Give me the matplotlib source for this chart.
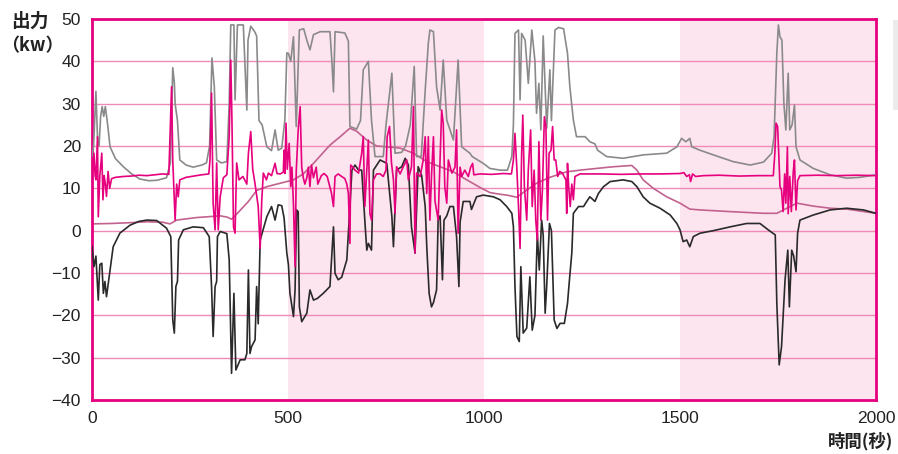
import matplotlib.pyplot as plt
import matplotlib.patches as mpatches

# ---- data (time in s, output in kW) ----
gray_t = [0, 4, 10, 14, 18, 22, 26, 30, 34, 40, 46, 60, 80, 100, 122, 145, 166, 190, 200, 206,
          210, 212, 218, 224, 240, 258, 280, 292, 300, 306, 312, 318, 330, 344, 350, 354, 362, 365,
          371, 386, 395, 398, 405, 415, 420, 426, 434, 446, 458, 467, 475, 484, 492, 497, 501, 507,
          514, 521, 529, 540, 548, 556, 565, 582, 607, 612, 616, 620, 645, 654, 658, 675, 685, 692,
          705, 713, 722, 743, 750, 765, 773, 790, 800, 812, 822, 828, 840, 850, 858, 862, 871, 879,
          888, 896, 905, 922, 934, 943, 964, 970, 998, 1015, 1041, 1060, 1071, 1075, 1079, 1088,
          1092, 1096, 1105, 1113, 1122, 1130, 1134, 1140, 1145, 1151, 1160, 1168, 1172, 1181, 1190,
          1203, 1213, 1219, 1228, 1236, 1258, 1270, 1283, 1290, 1313, 1355, 1406, 1466, 1492, 1504,
          1515, 1525, 1530, 1551, 1585, 1636, 1679, 1713, 1734, 1740, 1747, 1751, 1755, 1760, 1765,
          1770, 1776, 1780, 1786, 1792, 1796, 1806, 1840, 1883, 1925, 1959, 2000]
gray_kw = [17.5, 20, 32.9, 22, 20, 27, 29.3, 27, 29.3, 25, 19.8, 17, 15.1, 13.5, 12.2, 11.8, 11.9,
           12.5, 16, 38.5, 35, 30, 26, 16.7, 15.5, 15, 15.5, 16, 20, 40.8, 34, 16.7, 16, 16.3, 30,
           48.6, 48.6, 30.9, 48.6, 48.6, 28.5, 45, 48.3, 47, 46, 26, 25, 19.8, 18.9, 23.8, 19, 19.5,
           26.1, 42, 41.9, 40, 45.8, 24.6, 47.4, 47.7, 45, 42.7, 46.3, 47, 47, 40, 32.8, 47, 46.7,
           44.8, 24.6, 24, 26, 38, 40, 26.1, 17.5, 17.5, 25, 37.2, 18.3, 18.5, 20, 25, 38.8, 17.5,
           17.5, 33.2, 44.3, 47.4, 47, 34, 28.5, 40.3, 26.1, 21.4, 40.3, 19.8, 18.3, 17.5, 15.9,
           14.7, 14.3, 14.3, 17.5, 25, 46.6, 47.4, 30.9, 46.6, 45, 34.8, 47.4, 40, 27.7, 34.8, 23.8,
           46, 24.2, 38, 26, 47.4, 48, 47.7, 41.9, 34, 26.1, 22.2, 22.2, 21, 20.5, 19, 17.5, 17.1,
           17.9, 18.3, 19.8, 21.8, 21, 21.8, 19.8, 19, 17.9, 16.3, 15.5, 16.2, 18.3, 22.2, 41.9,
           48.6, 45.8, 45, 30.1, 23.8, 37.2, 23.8, 25, 29.7, 19.8, 16.7, 14.7, 13.2, 12.4, 12.6, 13.2]

black_t = [0, 5, 10, 16, 20, 25, 29, 33, 37, 46, 54, 71, 97, 120, 140, 165, 190, 201, 206, 210,
           214, 218, 221, 233, 258, 284, 299, 305, 309, 314, 318, 320, 327, 344, 350, 356, 362, 367,
           378, 390, 395, 399, 403, 407, 416, 420, 424, 429, 446, 458, 467, 475, 484, 490, 497, 501,
           505, 514, 518, 522, 526, 529, 535, 548, 556, 565, 575, 590, 607, 616, 620, 628, 637, 650,
           658, 663, 671, 680, 688, 697, 701, 705, 713, 718, 735, 752, 765, 769, 777, 790, 799, 807,
           815, 824, 828, 832, 841, 850, 854, 860, 866, 871, 879, 883, 888, 894, 898, 905, 913, 922,
           930, 936, 939, 947, 964, 968, 981, 998, 1024, 1041, 1058, 1071, 1075, 1079, 1084, 1090,
           1094, 1100, 1109, 1117, 1123, 1130, 1136, 1141, 1147, 1151, 1156, 1160, 1167, 1172, 1179,
           1186, 1194, 1205, 1213, 1218, 1224, 1228, 1241, 1254, 1262, 1270, 1283, 1292, 1305, 1322,
           1355, 1377, 1390, 1406, 1423, 1449, 1475, 1492, 1500, 1508, 1517, 1525, 1534, 1551, 1585,
           1628, 1670, 1704, 1725, 1743, 1747, 1753, 1759, 1768, 1775, 1779, 1785, 1790, 1796, 1800,
           1806, 1840, 1883, 1925, 1968, 2000]
black_kw = [-3.8, -8.5, -6, -16.4, -8, -7.7, -14.8, -12, -15.6, -9.3, -3.8, -0.6, 1.3, 2.2, 2.5,
            2.4, 0.6, -1.4, -21.1, -24.2, -13.2, -12, -2.2, 0.2, 0.9, 0.7, -1.4, -13.2, -25, -13.2,
            -12, -1.4, -0.2, -0.7, -6.9, -33.7, -14.8, -32.9, -30.5, -30.5, -29, -9.3, -29, -27.4,
            -25.8, -13.2, -22, -2.2, 3.3, 5.7, 2.5, 6.1, 5.9, 3, -5.3, -8, -14.8, -20.3, -14, 4.9,
            4.5, -18, -21.5, -19.5, -14, -16.4, -16, -14.8, -13.2, 0.9, -10.1, -11.6, -11, -6.9, 5.7,
            14.3, 15.5, 14.3, 14.3, 0.9, -4.6, -3, -4.6, 14.3, 16.7, 15.9, 3.3, -3.8, 14.3, 15.1,
            17.1, 15.5, 0.9, -5.3, 5, 15.1, 13, 5.7, -3.8, -14.8, -18, -17, -14, 2.5, 3.5, -11.6,
            2.5, 3.5, 5.7, 5.7, -1.4, -13.2, 2, 6.9, 6.9, 5, 8, 8.4, 8, 7.3, 5.7, 4.1, 1, -13.2, -25,
            -26.2, -8.5, -24.2, -23, -10.9, -23.5, -20, -0.6, -9.3, 2.5, -1, -19.5, -13, 1.7, 0,
            -21.1, -23.1, -21.9, -21.9, -17.2, -11.6, -5.3, 4.1, 5.7, 5.7, 6.9, 8, 6.9, 8.8, 10.4,
            11.6, 12, 11.6, 10.4, 8, 6.5, 5.3, 3.7, 1.7, 0.2, -2.6, -2.2, -3.8, -1.4, -0.6, 0, 0.9,
            1.7, 1.7, 0.2, -1, -17.2, -31.7, -27.4, -11.6, -4.6, -18, -4.6, -6, -9.7, -0.6, 2.5,
            3.7, 4.9, 5.3, 4.9, 4.1]

mauve_t = [0, 50, 100, 140, 180, 199, 216, 267, 327, 345, 356, 373, 399, 420, 446, 480, 514, 539,
           565, 607, 633, 658, 675, 701, 726, 752, 786, 820, 854, 888, 922, 956, 990, 1015, 1041,
           1058, 1084, 1109, 1134, 1168, 1211, 1245, 1287, 1330, 1377, 1390, 1406, 1432, 1466, 1500,
           1525, 1551, 1628, 1713, 1747, 1764, 1798, 1840, 1883, 1925, 2000]
mauve_kw = [1.6, 1.7, 1.9, 2.1, 2.0, 1.6, 2.5, 3.1, 3.5, 3.2, 2.7, 4.3, 6.9, 9.5, 10.4, 11.2, 12,
            13.4, 15.9, 20.2, 22.2, 24.2, 23.5, 21.4, 20, 19.8, 19.5, 18.3, 16.3, 15.1, 13.9, 12,
            10.2, 9, 8.6, 8.4, 7.9, 9.6, 11.2, 12.6, 13.9, 14.3, 14.7, 15.1, 15.4, 14.3, 12, 10, 8,
            6.5, 5.1, 4.9, 4.5, 4.1, 4.1, 4.9, 6.5, 5.8, 5.3, 5.1, 4.1]

pink_t = [0, 3, 5, 8, 10, 14, 16, 20, 25, 28, 31, 34, 37, 41, 45, 50, 60, 80, 100, 120, 140, 160,
          180, 196, 203, 206, 212, 216, 220, 224, 240, 260, 280, 298, 301, 305, 309, 314, 318, 322,
          327, 335, 344, 350, 354, 357, 361, 365, 369, 375, 385, 395, 399, 405, 410, 416, 424, 429,
          433, 437, 445, 450, 458, 467, 472, 480, 488, 490, 492, 495, 498, 503, 507, 510, 514, 518,
          521, 526, 531, 535, 539, 543, 548, 552, 556, 560, 565, 572, 576, 585, 592, 600, 605, 611,
          616, 620, 628, 637, 645, 650, 654, 658, 660, 665, 671, 680, 688, 692, 696, 701, 705, 709,
          713, 718, 726, 735, 743, 750, 753, 759, 764, 769, 773, 777, 786, 794, 803, 807, 815, 820,
          824, 828, 837, 845, 850, 854, 858, 862, 866, 871, 875, 883, 888, 892, 896, 900, 905, 909,
          918, 926, 930, 934, 939, 943, 951, 960, 966, 971, 974, 990, 1020, 1050, 1070, 1075, 1079,
          1084, 1088, 1092, 1096, 1099, 1103, 1109, 1113, 1119, 1123, 1128, 1132, 1136, 1140, 1145,
          1149, 1154, 1158, 1162, 1166, 1171, 1175, 1179, 1183, 1188, 1193, 1200, 1209, 1211, 1213,
          1216, 1220, 1224, 1228, 1232, 1245, 1300, 1350, 1400, 1450, 1500, 1510, 1517, 1524, 1527,
          1532, 1540, 1560, 1600, 1650, 1700, 1738, 1742, 1745, 1749, 1752, 1755, 1759, 1763, 1767,
          1770, 1774, 1776, 1780, 1784, 1789, 1792, 1796, 1800, 1806, 1850, 1900, 1950, 2000]
pink_kw = [12.2, 16, 18.3, 13, 12, 22.2, 3.3, 13, 18.3, 7.3, 13, 11, 8.1, 14, 10, 12.3, 12.6, 12.8,
           12.9, 13.1, 13, 13.2, 13.4, 13.3, 34, 16.7, 2.5, 11, 8, 12, 12.6, 12.9, 13.2, 13.4, 16.7,
           32.5, 6.5, 0.2, 16, 0.2, 8, 12.5, 13.2, 22.2, 40.3, 26, 0.9, -0.6, 16, 12, 12.8, 11, 18.3,
           23.4, 14.5, 11, 5.7, -4.2, 7, 13.6, 12, 13.6, 13, 15.9, 13.5, 13.4, 13.8, 19, 13.5, 25.4,
           14.5, 20.6, 10.4, 15, 6, -8.5, 14, 23.8, 29.3, 15, 12.5, 11, 12.5, 15, 10.4, 15.5, 12.5,
           15, 11, 13, 13.5, 12.8, 11, 8.8, 5.7, 12.8, 13.4, 12.8, 12.3, 11, 8.8, -3, 15.5, 15,
           14.3, 13.6, 18.3, 22.2, 5.7, 14.3, 21.4, 4, 2.5, 12, 13.4, 13.4, 12.8, 14.3, 22.2, 24.6,
           16, 12, 4.1, 15.1, 13.4, 15.1, 16.7, 12, 15.1, 29.3, -5.3, 13.6, 12.8, 16.7, 22.2, 8.8,
           22.2, 2.5, 12.8, 22.2, 7, 2.5, 16.7, 28.5, 25.4, 10.4, 6.5, 16.7, 13.6, 15, 23.8, -0.6,
           15, 12.8, 14.3, 12.8, 15, 15.9, 13.2, 13.4, 13.3, 13.5, 13.4, 16.7, 23, 14.3, 5.7, -4.2,
           18.3, 27.3, 10.4, 2.5, 14.3, 23.8, 5.7, 14.3, 2.5, -2.2, 21, 2.5, 9.6, 26.9, 24.6, 2.5,
           18.3, 19, 24.6, 16.7, 16.7, 12.8, 14, 13.6, 12, 4.1, 15.9, 10.4, 5.7, 11, 7.3, 12.8,
           13.4, 13.4, 13.3, 13.4, 13.4, 13.5, 13.7, 12.8, 13.2, 11.6, 13.4, 12.8, 13, 13.1, 12.9,
           13, 13, 18.3, 25.4, 24.6, 18, 10.4, 9.6, 4.5, 13.4, 6.5, 19.8, 4, 12.8, 4.5, 14, 16.7,
           4.9, 11.8, 13, 13.1, 13, 13.1, 13]

shaded_spans = [(500, 1000), (1500, 2000)]
x_ticks = [0, 500, 1000, 1500, 2000]
y_ticks = list(range(-40, 51, 10))

frame_pink = "#e4007f"
grid_pink = "#f08ab8"

fig = plt.figure(figsize=(8.98, 4.54), dpi=100)
ax = fig.add_axes([92 / 898, 54 / 454, 784 / 898, 381 / 454])

for a, b in shaded_spans:
    ax.axvspan(a, b, color="#fce5ef", lw=0, zorder=0)
for y in y_ticks[1:-1]:
    ax.axhline(y, color=grid_pink, lw=1.0, zorder=1)

ax.plot(mauve_t, mauve_kw, color="#c2628f", lw=1.2, zorder=2)
ax.plot(gray_t, gray_kw, color="#8a8a8a", lw=1.2, zorder=3)
ax.plot(black_t, black_kw, color="#2a2a2a", lw=1.2, zorder=4)
ax.plot(pink_t, pink_kw, color="#e6007e", lw=1.2, zorder=5)

ax.set_xlim(0, 2000)
ax.set_ylim(-40, 50)
ax.set_xticks(x_ticks)
ax.set_yticks(y_ticks)
ax.set_yticklabels([f"{v}".replace("-", "\u2212") for v in y_ticks])
ax.tick_params(length=0, labelsize=12.5, labelcolor="#222222", pad=8)
for lab in ax.get_xticklabels() + ax.get_yticklabels():
    lab.set_family("Liberation Sans")
for s in ax.spines.values():
    s.set_color(frame_pink)
    s.set_linewidth(2)

jp = ["Noto Sans CJK JP", "DejaVu Sans"]
fig.text(11 / 898, 1 - 21 / 454, "出力", family=jp, fontsize=13.5, fontweight="bold",
         color="#222222", va="center", ha="left")
fig.text(1 / 898, 1 - 46 / 454, "（kw）", family=jp, fontsize=13, fontweight="bold",
         color="#222222", va="center", ha="left")
fig.text(893 / 898, 1 - 441 / 454, "時間(秒)", family=jp, fontsize=12.5, fontweight="bold",
         color="#222222", va="center", ha="right")

# clipped grey panel at the right edge of the page
fig.patches.append(mpatches.Rectangle((893 / 898, 1 - 110 / 454), 6 / 898, 90 / 454,
                                      transform=fig.transFigure, color="#ebebeb", lw=0))

fig.savefig("out.png", dpi=100)
